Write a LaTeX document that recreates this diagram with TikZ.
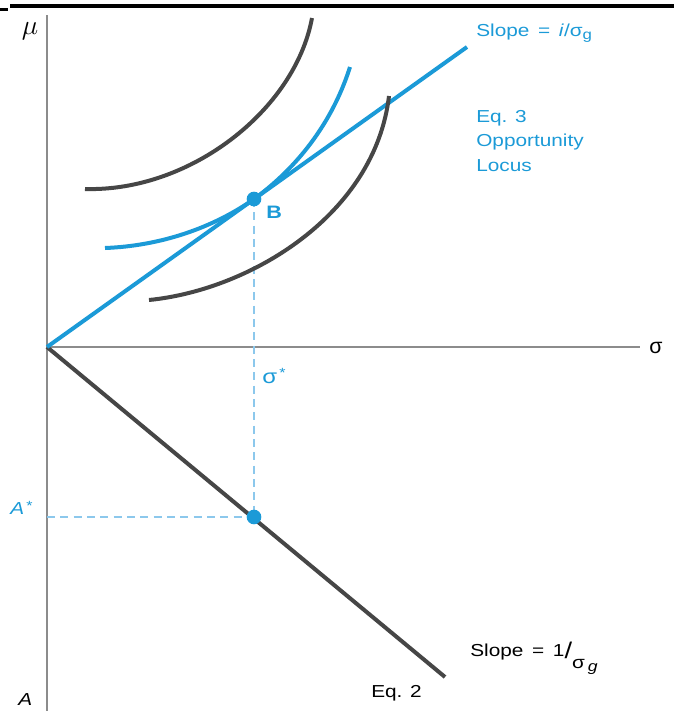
\documentclass[tikz,border=0pt]{standalone}
\usepackage{fontspec}
\setmainfont{Liberation Sans}
\newfontfamily\widefont[FakeStretch=1.2]{Liberation Sans}
\definecolor{cblue}{RGB}{27,154,215}
\definecolor{clight}{RGB}{140,200,236}
\definecolor{cdark}{RGB}{70,70,70}
\definecolor{caxis}{RGB}{140,140,140}
\begin{document}
\begin{tikzpicture}[x=0.75pt,y=-0.75pt,
  axisline/.style={draw=caxis,line width=1.5pt},
  blueline/.style={draw=cblue,line width=3pt},
  darkline/.style={draw=cdark,line width=3pt},
  dashline/.style={draw=clight,line width=1.2pt,dash pattern=on 6pt off 4pt},
  lbl/.style={font=\widefont\fontsize{13}{18.4}\selectfont,inner sep=0pt},
  dot/.style={circle,fill=cblue,inner sep=0pt,minimum size=11pt}]
\useasboundingbox (0,0) rectangle (674,711);
% top rule
\coordinate (r1) at (10,5.5);
\coordinate (r2) at (674,5.5);
\draw[line width=3pt] (r1) -- (r2);
\coordinate (m1) at (0,9.5);
\coordinate (m2) at (8,9.5);
\draw[line width=2pt] (m1) -- (m2);
% axes
\coordinate (O) at (47,347);
\coordinate (ytop) at (47,15);
\coordinate (ybot) at (47,711);
\coordinate (xend) at (640,347);
\draw[axisline] (ytop) -- (ybot);
\draw[axisline] (O) -- (xend);
% points
\coordinate (Bpt) at (254,199);
\coordinate (Apt) at (254,517);
\coordinate (Aax) at (47,517);
\coordinate (Lend) at (467,47);
\coordinate (Dend) at (445,677);
% dashed guides
\draw[dashline] (Bpt) -- (Apt);
\draw[dashline] (Aax) -- (Apt);
% lines
\draw[darkline] (O) -- (Dend);
\draw[blueline] (O) -- (Lend);
% curves
\draw[darkline] (85,189) .. controls (190,192) and (295,110) .. (312,18);
\draw[darkline] (149,300) .. controls (250,290) and (375,215) .. (389,96);
\draw[blueline] (105,248) .. controls (160,246) and (213,228) .. (Bpt)
  .. controls (290,173) and (330,130) .. (350,67);
% dots
\node[dot] (B) at (Bpt) {};
\node[dot] (Ad) at (Apt) {};
% labels
\node[font=\fontsize{20}{20}\selectfont,inner sep=0pt] (mu) at (30,31) {$\mu$};
\node[lbl,font=\fontsize{16}{16}\selectfont] (sig) at (656,348) {σ};
\node[lbl,anchor=west,text=cblue] (s1) at (476,33) {Slope\enspace=\enspace\textit{i}/σ\raisebox{-0.35ex}{\fontsize{10.5}{10.5}\selectfont g}};
\node[lbl,anchor=north west,text=cblue,align=left] (eq3) at (476,110) {Eq. 3\\Opportunity\\Locus};
\node[lbl,anchor=west,text=cblue,font=\widefont\fontsize{13.5}{13.5}\selectfont\bfseries] (Bl) at (266,212) {B};
\node[lbl,anchor=west,text=cblue] (sst) at (262,376) {\fontsize{15}{15}\selectfont σ\raisebox{0.6ex}{\fontsize{10}{10}\selectfont\,*}};
\node[lbl,anchor=west,text=cblue] (ast) at (10,508) {\textit{A}\raisebox{0.5ex}{\fontsize{10}{10}\selectfont\,*}};
\node[lbl,anchor=west] (a) at (18,700) {\textit{A}};
\node[lbl,anchor=west] (eq2) at (371,693) {Eq. 2};
\node[lbl,anchor=west] (s2) at (470,658) {Slope\enspace=\enspace1\raisebox{-0.2ex}{\fontsize{17}{17}\selectfont/}\raisebox{-1.3ex}{σ\,\raisebox{-0.3ex}{\fontsize{11}{11}\selectfont\textit{g}}}};
\end{tikzpicture}
\end{document}
